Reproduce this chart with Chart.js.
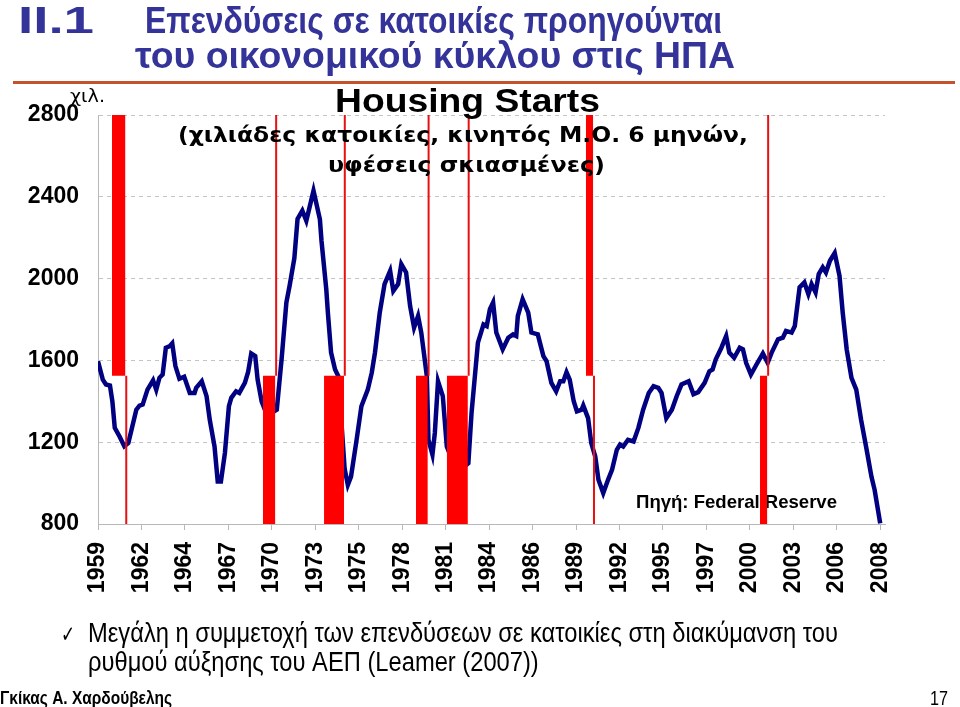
<!DOCTYPE html>
<html>
<head>
<meta charset="utf-8">
<script src="https://cdn.jsdelivr.net/npm/chart.js@4.4.0/dist/chart.umd.min.js"></script>
<style>
  html, body { margin: 0; padding: 0; background: #fff; }
  #myChart { display: block; }
</style>
</head>
<body>
<canvas id="myChart" width="960" height="707"></canvas>
<script>
// housing starts, 6-month moving average (thousands)
const years = [
  1959.0, 1959.3, 1959.5, 1959.75, 1959.9, 1960.05, 1960.35, 1960.65, 1960.9, 1961.1,
  1961.4, 1961.6, 1961.8, 1962.1, 1962.45, 1962.65, 1962.85, 1963.05, 1963.25, 1963.5,
  1963.65, 1963.85, 1964.1, 1964.4, 1964.75, 1965.05, 1965.15, 1965.5, 1965.8, 1966.0,
  1966.3, 1966.5, 1966.7, 1966.95, 1967.2, 1967.35, 1967.65, 1967.85, 1968.2, 1968.4,
  1968.6, 1968.85, 1969.0, 1969.25, 1969.6, 1970.2, 1970.5, 1970.8, 1971.0, 1971.3,
  1971.5, 1971.8, 1972.05, 1972.5, 1972.9, 1973.0, 1973.3, 1973.4, 1973.6, 1973.85,
  1974.05, 1974.45, 1974.65, 1974.85, 1975.2, 1975.5, 1975.9, 1976.15, 1976.35, 1976.65,
  1976.95, 1977.3, 1977.5, 1977.8, 1978.0, 1978.3, 1978.55, 1978.8, 1979.05, 1979.25,
  1979.6, 1979.7, 1979.95, 1980.1, 1980.3, 1980.6, 1980.85, 1981.5, 1982.2, 1982.4,
  1982.8, 1983.15, 1983.35, 1983.55, 1983.75, 1983.95, 1984.35, 1984.7, 1985.0, 1985.2,
  1985.3, 1985.6, 1985.95, 1986.15, 1986.55, 1986.9, 1987.1, 1987.4, 1987.7, 1987.95,
  1988.15, 1988.35, 1988.55, 1988.8, 1989.0, 1989.3, 1989.4, 1989.7, 1989.9, 1990.15,
  1990.35, 1990.65, 1990.95, 1991.2, 1991.5, 1991.7, 1991.9, 1992.2, 1992.55, 1992.85,
  1993.15, 1993.5, 1993.8, 1994.1, 1994.3, 1994.6, 1994.95, 1995.25, 1995.55, 1996.0,
  1996.3, 1996.6, 1997.0, 1997.3, 1997.5, 1997.7, 1998.05, 1998.35, 1998.55, 1998.85,
  1999.2, 1999.4, 1999.6, 1999.9, 2000.25, 2000.65, 2000.95, 2001.2, 2001.6, 2001.9,
  2002.1, 2002.45, 2002.65, 2002.95, 2003.25, 2003.5, 2003.7, 2003.95, 2004.15, 2004.4,
  2004.6, 2004.85, 2005.15, 2005.45, 2005.65, 2005.9, 2006.2, 2006.5, 2006.8, 2007.15,
  2007.45, 2007.65, 2008.0
];
const starts = [
  1596, 1506, 1482, 1477, 1400, 1270, 1228, 1180, 1196, 1261,
  1359, 1379, 1384, 1457, 1503, 1457, 1515, 1531, 1662, 1670,
  1683, 1572, 1510, 1520, 1441, 1441, 1466, 1498, 1425, 1310,
  1179, 1008, 1008, 1147, 1376, 1417, 1449, 1441, 1490, 1542,
  1634, 1621, 1506, 1400, 1330, 1359, 1605, 1883, 1964, 2100,
  2292, 2332, 2283, 2430, 2290, 2185, 1948, 1834, 1638, 1556,
  1523, 1070, 991, 1032, 1212, 1376, 1457, 1540, 1638, 1834,
  1973, 2038, 1940, 1973, 2071, 2030, 1866, 1760, 1817, 1736,
  1523, 1212, 1139, 1245, 1498, 1425, 1179, 1050, 1098, 1343,
  1687, 1776, 1768, 1850, 1883, 1736, 1654, 1711, 1727, 1719,
  1817, 1899, 1834, 1736, 1727, 1621, 1596, 1490, 1449, 1498,
  1498, 1542, 1506, 1400, 1351, 1359, 1379, 1318, 1196, 1130,
  1016, 951, 1016, 1065, 1163, 1188, 1179, 1212, 1204, 1270,
  1359, 1441, 1474, 1466, 1441, 1318, 1359, 1425, 1482, 1498,
  1435, 1445, 1490, 1547, 1556, 1605, 1662, 1719, 1638, 1613,
  1662, 1654, 1588, 1531, 1580, 1634, 1588, 1638, 1703, 1711,
  1744, 1736, 1768, 1957, 1981, 1924, 1973, 1932, 2022, 2055,
  2030, 2087, 2125, 2014, 1834, 1654, 1515, 1457, 1310, 1163,
  1032, 967, 803
];
const tickLabels = ['1959', '1962', '1964', '1967', '1970', '1973', '1975', '1978', '1981', '1984',
  '1986', '1989', '1992', '1995', '1997', '2000', '2003', '2006', '2008'];

// recessions (shaded); the excel chart splits each bar at recSplit
const recStart = [1959.87, 1969.33, 1973.16, 1978.92, 1980.85, 1989.56, 2000.47];
const recEnd = [1960.72, 1970.11, 1974.41, 1979.66, 1982.17, 1990.02, 2000.93];
const recHalf = ['upper', 'lower', 'lower', 'lower', 'lower', 'upper', 'lower'];
const recSplit = 1525;

const yMin = 800, yMax = 2800;

const datasets = [];
recStart.forEach((s, i) => {
  const e = recEnd[i];
  const up = recHalf[i] === 'upper';
  datasets.push({
    data: [{x: s, y: recSplit}, {x: e, y: recSplit}],
    borderWidth: 0,
    pointRadius: 0,
    backgroundColor: '#ff0000',
    fill: up ? 'end' : 'start',
    order: 1
  });
  datasets.push({
    data: [{x: e + 0.05, y: recSplit}, {x: e + 0.05, y: up ? yMin : yMax}],
    borderWidth: 2,
    borderColor: '#e81010',
    pointRadius: 0,
    fill: false,
    order: 0
  });
});
datasets.push({
  label: 'Housing Starts',
  data: years.map((x, i) => ({x: x, y: starts[i]})),
  borderColor: '#000080',
  borderWidth: 4.5,
  pointRadius: 0,
  tension: 0,
  fill: false,
  order: 2
});

function fitText(ctx, text, x, y, width, font, color, scale) {
  ctx.font = font;
  const s = scale || width / ctx.measureText(text).width;
  ctx.save();
  ctx.translate(x, y);
  ctx.scale(s, 1);
  ctx.fillStyle = color;
  ctx.textAlign = 'left';
  ctx.textBaseline = 'alphabetic';
  ctx.fillText(text, 0, 0);
  ctx.restore();
  return s;
}

const slideText = {
  id: 'slideText',
  beforeDatasetsDraw(chart) {
    const ctx = chart.ctx;
    fitText(ctx, 'Πηγή: Federal Reserve', 636, 508, 201, 'bold 19px "Liberation Sans"', '#000');
  },
  afterDraw(chart) {
    const ctx = chart.ctx;
    // slide heading
    const blue = '#333399';
    fitText(ctx, 'II.1', 18, 33, 76, 'bold 36px "Liberation Sans"', blue);
    fitText(ctx, 'Επενδύσεις σε κατοικίες προηγούνται', 145, 33, 577, 'bold 36px "Liberation Sans"', blue);
    fitText(ctx, 'του οικονομικού κύκλου στις ΗΠΑ', 135, 68, 600, 'bold 36px "Liberation Sans"', blue);
    ctx.save();
    ctx.fillStyle = '#c4522b';
    ctx.fillRect(13, 81, 942, 3);
    ctx.restore();

    // chart titles
    fitText(ctx, 'Housing Starts', 335, 112, 265, 'bold 33px "Liberation Sans"', '#000');
    fitText(ctx, '(χιλιάδες κατοικίες, κινητός Μ.Ο. 6 μηνών,', 178, 142, 570, 'bold 22px "DejaVu Sans"', '#000');
    fitText(ctx, 'υφέσεις σκιασμένες)', 328, 172, 277, 'bold 22px "DejaVu Sans"', '#000');
    fitText(ctx, 'χιλ.', 70, 102, 35, '17px "DejaVu Sans"', '#000');

    // bullet and footer
    fitText(ctx, '✓', 61, 642, 14, '23px "DejaVu Sans"', '#000');
    const b = fitText(ctx, 'Μεγάλη η συμμετοχή των επενδύσεων σε κατοικίες στη διακύμανση του', 88, 642, 750, '27px "Liberation Sans"', '#000');
    fitText(ctx, 'ρυθμού αύξησης του ΑΕΠ (Leamer (2007))', 88, 671, 0, '27px "Liberation Sans"', '#000', b);
    fitText(ctx, 'Γκίκας Α. Χαρδούβελης', 0, 704, 172, 'bold 18px "Liberation Sans"', '#000');
    fitText(ctx, '17', 930, 705, 18, '20px "Liberation Sans"', '#000');
  }
};

const ctx = document.getElementById('myChart').getContext('2d');
const myChart = new Chart(ctx, {
  type: 'line',
  data: { datasets: datasets },
  options: {
    responsive: false,
    animation: false,
    layout: { padding: { left: 0, top: 115, right: 75, bottom: 0 } },
    plugins: { legend: { display: false }, tooltip: { enabled: false } },
    scales: {
      x: {
        type: 'linear',
        min: 1959,
        max: 2008.3,
        afterBuildTicks: (axis) => {
          axis.ticks = tickLabels.map((l, i) => ({ value: 1959 + i * 49 / 18 }));
        },
        afterFit: (scale) => { scale.height = 183; },
        ticks: {
          autoSkip: false,
          minRotation: 90,
          maxRotation: 90,
          padding: 12,
          color: '#000',
          font: { family: 'Liberation Sans', weight: 'bold', size: 23 },
          callback: (v, i) => tickLabels[i]
        },
        grid: { drawOnChartArea: false, tickLength: 6, color: '#b8b8b8' },
        border: { color: '#b8b8b8', width: 1 }
      },
      y: {
        min: yMin,
        max: yMax,
        afterFit: (scale) => { scale.width = 98; },
        ticks: {
          stepSize: 400,
          padding: 19,
          color: '#000',
          font: { family: 'Liberation Sans', weight: 'bold', size: 23 },
          callback: (v) => String(v)
        },
        grid: { drawTicks: false, color: '#c4c4c4' },
        border: { color: '#b8b8b8', width: 1, dash: [4, 4] }
      }
    }
  },
  plugins: [slideText]
});
</script>
</body>
</html>
